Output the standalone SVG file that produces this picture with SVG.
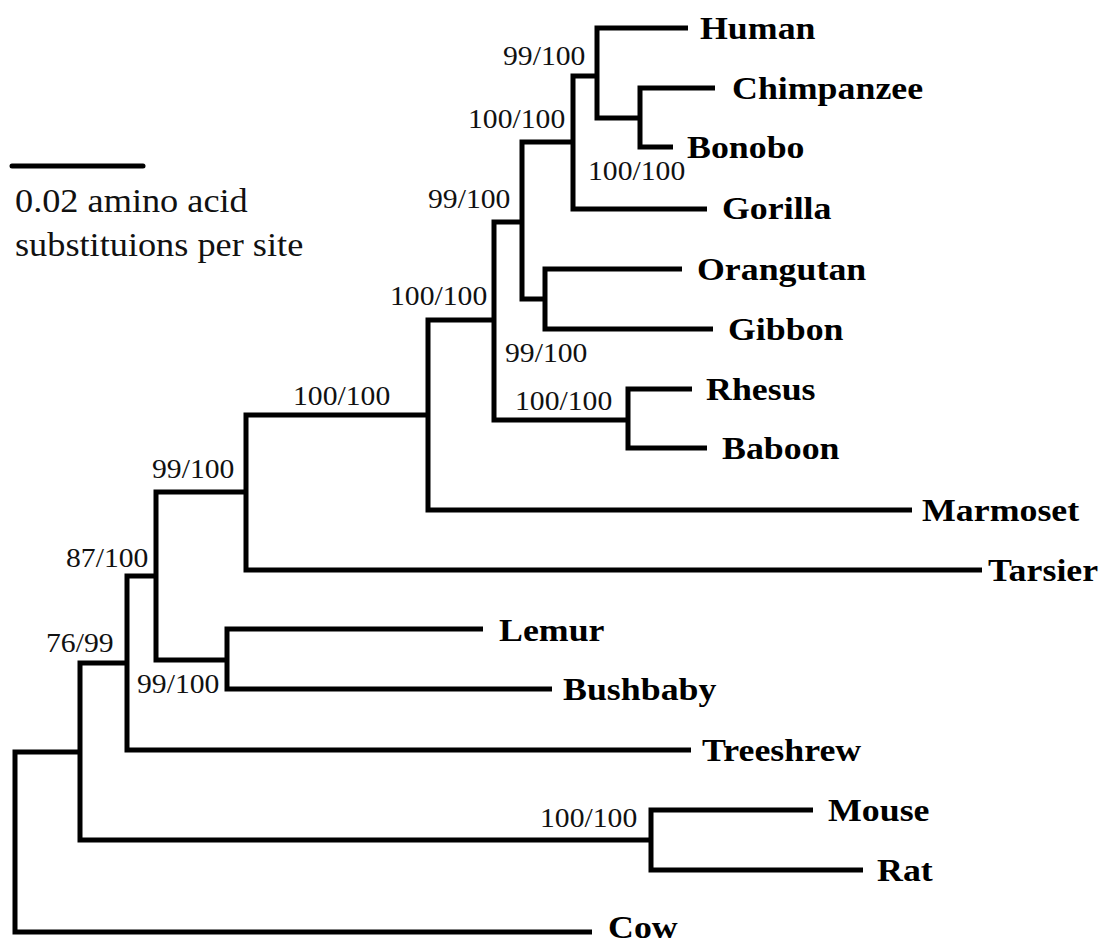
<svg xmlns="http://www.w3.org/2000/svg" width="1102" height="944" viewBox="0 0 1102 944">
<style>
.br{fill:none;stroke:#000;stroke-width:5;stroke-linejoin:miter;stroke-linecap:butt}
.tx{font-family:"Liberation Serif","Times New Roman",serif;font-weight:bold;font-size:32px;fill:#000}
.bs{font-family:"Liberation Serif","Times New Roman",serif;font-size:26.5px;fill:#111}
.sc{font-family:"Liberation Serif","Times New Roman",serif;font-size:33px;fill:#111}
</style>
<rect width="1102" height="944" fill="#fff"/>
<g id="connectors">
<path class="br" d="M592 932H15V752H80"/>
<path class="br" d="M127 663H80V840H651"/>
<path class="br" d="M813 810H651V870H863"/>
<path class="br" d="M156 576H127V750H691"/>
<path class="br" d="M246 492H156V660H227"/>
<path class="br" d="M483 629H227V689H552"/>
<path class="br" d="M428 415H246V570H982"/>
<path class="br" d="M494 320H428V510H912"/>
<path class="br" d="M522 222H494V420H628"/>
<path class="br" d="M692 389H628V448H707"/>
<path class="br" d="M573 142H522V299H545"/>
<path class="br" d="M682 269H545V329H713"/>
<path class="br" d="M597 76H573V209H707"/>
<path class="br" d="M688 28H597V118H640"/>
<path class="br" d="M715 88H640V147H673"/>
</g>
<g id="scale">
<path d="M12 166H143" stroke="#000" stroke-width="5" stroke-linecap="round"/>
<text class="sc" transform="translate(15 212) scale(1.1 1)">0.02 amino acid</text>
<text class="sc" transform="translate(15 256) scale(1.1 1)">substituions per site</text>
</g>
<g id="taxa">
<g id="human"><text class="tx" transform="translate(700 39) scale(1.12 1)">Human</text></g>
<g id="chimpanzee"><text class="tx" transform="translate(732 99) scale(1.12 1)">Chimpanzee</text></g>
<g id="bonobo"><text class="tx" transform="translate(687 158) scale(1.12 1)">Bonobo</text></g>
<g id="gorilla"><text class="tx" transform="translate(722 219) scale(1.12 1)">Gorilla</text></g>
<g id="orangutan"><text class="tx" transform="translate(697 280) scale(1.12 1)">Orangutan</text></g>
<g id="gibbon"><text class="tx" transform="translate(728 340) scale(1.12 1)">Gibbon</text></g>
<g id="rhesus"><text class="tx" transform="translate(706 400) scale(1.12 1)">Rhesus</text></g>
<g id="baboon"><text class="tx" transform="translate(722 459) scale(1.12 1)">Baboon</text></g>
<g id="marmoset"><text class="tx" transform="translate(922 521) scale(1.12 1)">Marmoset</text></g>
<g id="tarsier"><text class="tx" transform="translate(988 581) scale(1.12 1)">Tarsier</text></g>
<g id="lemur"><text class="tx" transform="translate(499 641) scale(1.12 1)">Lemur</text></g>
<g id="bushbaby"><text class="tx" transform="translate(563 700) scale(1.12 1)">Bushbaby</text></g>
<g id="treeshrew"><text class="tx" transform="translate(702 761) scale(1.12 1)">Treeshrew</text></g>
<g id="mouse"><text class="tx" transform="translate(828 821) scale(1.12 1)">Mouse</text></g>
<g id="rat"><text class="tx" transform="translate(877 881) scale(1.12 1)">Rat</text></g>
<g id="cow"><text class="tx" transform="translate(608 938) scale(1.12 1)">Cow</text></g>
</g>
<g id="support">
<g id="n-human-chimp"><text class="bs" transform="translate(503 65) scale(1.12 1)">99/100</text></g>
<g id="n-hcg"><text class="bs" transform="translate(468 128) scale(1.12 1)">100/100</text></g>
<g id="n-chimp-bonobo"><text class="bs" transform="translate(588 180) scale(1.12 1)">100/100</text></g>
<g id="n-apes"><text class="bs" transform="translate(428 208) scale(1.12 1)">99/100</text></g>
<g id="n-orang-gibbon"><text class="bs" transform="translate(505 362) scale(1.12 1)">99/100</text></g>
<g id="n-catarrhini"><text class="bs" transform="translate(390 305) scale(1.12 1)">100/100</text></g>
<g id="n-rhesus-baboon"><text class="bs" transform="translate(515 410) scale(1.12 1)">100/100</text></g>
<g id="n-anthropoid"><text class="bs" transform="translate(293 405) scale(1.12 1)">100/100</text></g>
<g id="n-haplorhini"><text class="bs" transform="translate(152 478) scale(1.12 1)">99/100</text></g>
<g id="n-primates"><text class="bs" transform="translate(66 567) scale(1.12 1)">87/100</text></g>
<g id="n-lemur-bushbaby"><text class="bs" transform="translate(137 693) scale(1.12 1)">99/100</text></g>
<g id="n-euarchontoglires"><text class="bs" transform="translate(46 652) scale(1.12 1)">76/99</text></g>
<g id="n-mouse-rat"><text class="bs" transform="translate(540 827) scale(1.12 1)">100/100</text></g>
</g>
</svg>
